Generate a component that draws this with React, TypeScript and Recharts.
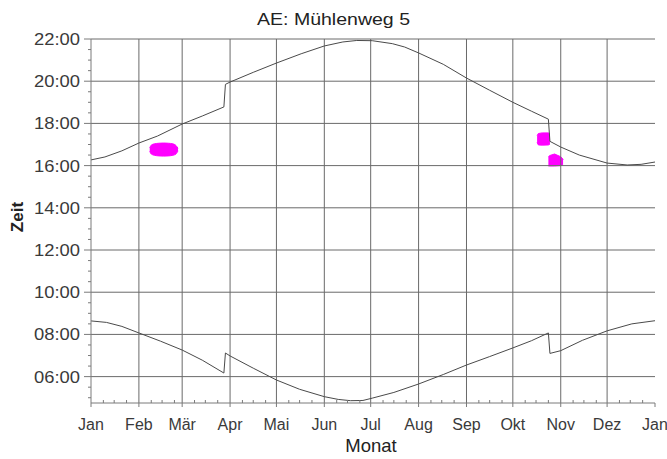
import React from 'react';
import { ComposedChart, Line, Area, XAxis, YAxis, ReferenceLine } from 'recharts';

// ---- axis definitions ----
const monthLabels = ['Jan', 'Feb', 'Mär', 'Apr', 'Mai', 'Jun', 'Jul', 'Aug', 'Sep', 'Okt', 'Nov', 'Dez', 'Jan'];
const monthStarts = [0, 31, 59, 90, 120, 151, 181, 212, 243, 273, 304, 334, 365];
const hourTicks = [6, 8, 10, 12, 14, 16, 18, 20, 22];
const hourMinorTicks = [5, 5.5, 6.5, 7, 7.5, 8.5, 9, 9.5, 10.5, 11, 11.5, 12.5, 13, 13.5, 14.5, 15, 15.5, 16.5, 17, 17.5, 18.5, 19, 19.5, 20.5, 21, 21.5];
const dayMinorOffsets = [8, 15, 23];

// ---- sunset (upper curve) ----
const sunsetDays = [0, 9, 20, 31, 43, 59, 72, 86, 87, 90, 105, 120, 136, 151, 163, 172, 182, 195, 203, 212, 228, 243, 258, 273, 285, 296, 297, 304, 316, 334, 347, 356, 365];
const sunsetTimes = [16.27, 16.41, 16.7, 17.07, 17.4, 17.97, 18.35, 18.78, 19.85, 19.96, 20.42, 20.86, 21.3, 21.67, 21.86, 21.93, 21.92, 21.78, 21.62, 21.34, 20.8, 20.15, 19.57, 19.0, 18.58, 18.2, 17.15, 16.88, 16.5, 16.12, 16.03, 16.06, 16.17];

// ---- sunrise (lower curve) ----
const sunriseDays = [0, 10, 20, 31, 45, 59, 72, 86, 87, 90, 105, 120, 135, 151, 160, 168, 176, 182, 196, 212, 228, 243, 258, 273, 285, 296, 297, 304, 318, 334, 350, 365];
const sunriseTimes = [8.64, 8.57, 8.38, 8.07, 7.68, 7.26, 6.78, 6.17, 7.12, 6.98, 6.4, 5.84, 5.4, 5.05, 4.92, 4.86, 4.87, 4.98, 5.25, 5.65, 6.1, 6.55, 6.95, 7.36, 7.7, 8.07, 7.1, 7.23, 7.72, 8.17, 8.5, 8.65];

// ---- shadow periods (magenta) ----
const shadowFebDays = [38, 39, 41, 44, 47, 50, 53, 55, 56.3];
const shadowFebLow = [16.68, 16.55, 16.49, 16.46, 16.45, 16.46, 16.49, 16.55, 16.7];
const shadowFebHigh = [16.84, 16.97, 17.03, 17.06, 17.07, 17.06, 17.03, 16.95, 16.82];

const shadowOctDays = [288.7, 289.5, 292, 296, 297];
const shadowOctLow = [17.1, 16.98, 16.97, 16.98, 17.02];
const shadowOctHigh = [17.42, 17.52, 17.55, 17.55, 17.5];

const shadowNovDays = [296, 297, 300, 304, 305.5];
const shadowNovLow = [15.98, 15.98, 15.98, 16.0, 16.05];
const shadowNovHigh = [16.42, 16.48, 16.55, 16.42, 16.3];

const toLine = (days: number[], vals: number[]) => days.map((d, i) => ({ d, v: vals[i] }));
const toRange = (days: number[], lo: number[], hi: number[]) => days.map((d, i) => ({ d, r: [lo[i], hi[i]] }));

const sunsetData = toLine(sunsetDays, sunsetTimes);
const sunriseData = toLine(sunriseDays, sunriseTimes);
const febData = toRange(shadowFebDays, shadowFebLow, shadowFebHigh);
const octData = toRange(shadowOctDays, shadowOctLow, shadowOctHigh);
const novData = toRange(shadowNovDays, shadowNovLow, shadowNovHigh);

const xTicks: number[] = [];
monthStarts.forEach((m, i) => {
  xTicks.push(m);
  if (i < monthStarts.length - 1) dayMinorOffsets.forEach((o) => xTicks.push(m + o));
});
const yTicks = [...hourTicks, ...hourMinorTicks].sort((a, b) => a - b);

const FONT = '"Liberation Sans", Arial, sans-serif';
const GRID = '#6a6a6a';
const AXIS = '#7a7a7a';
const CURVE = '#4a4a4a';
const MAGENTA = '#ff00ff';

const fmtHour = (h: number) => `${String(h).padStart(2, '0')}:00`;

const YTick = (props: any) => {
  const { x, y, payload } = props;
  const v = payload.value as number;
  const major = hourTicks.includes(v);
  return (
    <g>
      <line x1={x - (major ? 7 : 3)} x2={x} y1={y} y2={y} stroke={AXIS} strokeWidth={1} />
      {major && (
        <text x={x - 11} y={y} dy={6} textAnchor="end" fontFamily={FONT} fontSize={17} fill="#3a3a3a" textLength={46} lengthAdjust="spacingAndGlyphs">
          {fmtHour(v)}
        </text>
      )}
    </g>
  );
};

const XTick = (props: any) => {
  const { x, y, payload } = props;
  const v = payload.value as number;
  const idx = monthStarts.indexOf(v);
  if (idx < 0) {
    return <line x1={x} x2={x} y1={y - 3} y2={y} stroke={AXIS} strokeWidth={1} />;
  }
  return (
    <g>
      <line x1={x} x2={x} y1={y} y2={y + 4} stroke={AXIS} strokeWidth={1} />
      <text x={x} y={y + 27} textAnchor="middle" fontFamily={FONT} fontSize={16} fill="#3a3a3a">
        {monthLabels[idx]}
      </text>
    </g>
  );
};

export default function App() {
  return (
    <div style={{ position: 'absolute', left: 0, top: 0, width: 667, height: 459, background: '#fff' }}>
      <ComposedChart width={667} height={459} margin={{ top: 39, right: 12, bottom: 0, left: 0 }}>
        <XAxis
          dataKey="d"
          type="number"
          domain={[0, 365]}
          allowDataOverflow
          ticks={xTicks}
          interval={0}
          height={56}
          tickSize={0}
          tickMargin={0}
          tickLine={false}
          tick={<XTick />}
          axisLine={{ stroke: AXIS }}
        />
        <YAxis
          type="number"
          domain={[4.75, 22]}
          allowDataOverflow
          ticks={yTicks}
          interval={0}
          width={91}
          tickSize={0}
          tickMargin={0}
          tickLine={false}
          tick={<YTick />}
          axisLine={{ stroke: AXIS }}
        />
        {monthStarts.slice(1, -1).map((m) => (
          <ReferenceLine key={`vx${m}`} x={m} stroke={GRID} strokeWidth={1} />
        ))}
        {hourTicks.map((h) => (
          <ReferenceLine key={`hy${h}`} y={h} stroke={GRID} strokeWidth={1} />
        ))}
        <Area data={febData} dataKey="r" type="monotone" stroke={MAGENTA} strokeWidth={1} fill={MAGENTA} fillOpacity={1} isAnimationActive={false} dot={false} activeDot={false} />
        <Area data={octData} dataKey="r" type="linear" stroke={MAGENTA} strokeWidth={1} fill={MAGENTA} fillOpacity={1} isAnimationActive={false} dot={false} activeDot={false} />
        <Area data={novData} dataKey="r" type="linear" stroke={MAGENTA} strokeWidth={1} fill={MAGENTA} fillOpacity={1} isAnimationActive={false} dot={false} activeDot={false} />
        <Line data={sunsetData} dataKey="v" type="linear" stroke={CURVE} strokeWidth={1} dot={false} activeDot={false} isAnimationActive={false} />
        <Line data={sunriseData} dataKey="v" type="linear" stroke={CURVE} strokeWidth={1} dot={false} activeDot={false} isAnimationActive={false} />
      </ComposedChart>
      <svg width={667} height={459} style={{ position: 'absolute', left: 0, top: 0, pointerEvents: 'none' }}>
        <text x={333.5} y={25} textAnchor="middle" fontFamily={FONT} fontSize={17} fill="#222" textLength={153} lengthAdjust="spacingAndGlyphs">
          AE: Mühlenweg 5
        </text>
        <text x={371} y={452} textAnchor="middle" fontFamily={FONT} fontSize={18.5} fill="#222">
          Monat
        </text>
        <text x={23} y={217} textAnchor="middle" fontFamily={FONT} fontSize={17} fontWeight="bold" fill="#222" transform="rotate(-90 23 217)">
          Zeit
        </text>
      </svg>
    </div>
  );
}
